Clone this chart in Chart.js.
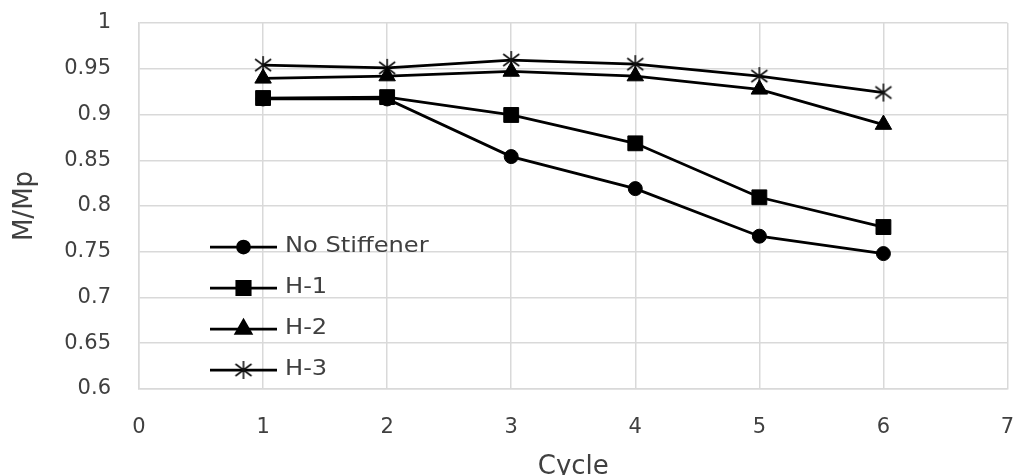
<!DOCTYPE html>
<html>
<head>
<meta charset="utf-8">
<script src="https://cdn.jsdelivr.net/npm/chart.js@4.4.0/dist/chart.umd.min.js"></script>
<style>
html,body{margin:0;padding:0;background:#fff;}
#wrap{width:1019px;height:475px;}
</style>
</head>
<body>
<div id="wrap"><canvas id="c" width="1019" height="475"></canvas></div>
<script>
const cycles = [1, 2, 3, 4, 5, 6];
const seriesNames = ['No Stiffener', 'H-1', 'H-2', 'H-3'];
const noStiffener = [0.917, 0.917, 0.854, 0.819, 0.767, 0.748];
const h1 = [0.918, 0.919, 0.8995, 0.8685, 0.8095, 0.777];
const h2 = [0.9395, 0.942, 0.947, 0.942, 0.9275, 0.889];
const h3 = [0.954, 0.951, 0.9595, 0.955, 0.942, 0.924];
const yTickValues = [0.6, 0.65, 0.7, 0.75, 0.8, 0.85, 0.9, 0.95, 1];

const FONT = 'DejaVu Sans';
const TEXT = '#404040';
const GRID = '#d9d9d9';

// asterisk marker (vertical line + X)
function makeAsterisk() {
  const cv = document.createElement('canvas');
  cv.width = 20; cv.height = 20;
  const g = cv.getContext('2d');
  g.strokeStyle = '#111';
  g.lineWidth = 1.6;
  g.beginPath();
  g.moveTo(10, 1); g.lineTo(10, 19);
  g.moveTo(2, 4); g.lineTo(18, 16);
  g.moveTo(2, 16); g.lineTo(18, 4);
  g.stroke();
  return cv;
}
const asterisk = makeAsterisk();

const styles = [
  {pointStyle: 'circle', radius: 7},
  {pointStyle: 'rect', radius: 10.5},
  {pointStyle: 'triangle', radius: 9.5},
  {pointStyle: asterisk, radius: 10}
];

const allValues = [noStiffener, h1, h2, h3];
const datasets = allValues.map((vals, i) => ({
  label: seriesNames[i],
  data: cycles.map((c, j) => ({x: c, y: vals[j]})),
  borderColor: '#000',
  backgroundColor: '#000',
  borderWidth: 2.75,
  pointStyle: styles[i].pointStyle,
  pointRadius: styles[i].radius,
  pointHoverRadius: styles[i].radius,
  pointBorderWidth: 1,
  pointBorderColor: '#000',
  pointBackgroundColor: '#000',
  tension: 0,
  fill: false
}));

const legendPlugin = {
  id: 'customLegend',
  afterDraw(chart) {
    const ctx = chart.ctx;
    const ca = chart.chartArea;
    const x0 = ca.left + 71, x1 = ca.left + 138, xm = (x0 + x1) / 2;
    const tx = ca.left + 146;
    const y0 = ca.top + 224, dy = 41;
    ctx.save();
    seriesNames.forEach((name, i) => {
      const y = y0 + i * dy;
      ctx.strokeStyle = '#000';
      ctx.lineWidth = 2.75;
      ctx.beginPath(); ctx.moveTo(x0, y); ctx.lineTo(x1, y); ctx.stroke();
      ctx.fillStyle = '#000';
      Chart.helpers.drawPoint(ctx, {
        pointStyle: styles[i].pointStyle,
        radius: styles[i].pointStyle === 'circle' ? 6 : styles[i].radius * 0.9,
        rotation: 0,
        borderWidth: 1
      }, xm, y);
      ctx.save();
      ctx.fillStyle = TEXT;
      ctx.font = '21px "' + FONT + '"';
      ctx.textAlign = 'left';
      ctx.textBaseline = 'middle';
      ctx.translate(tx, y);
      ctx.scale(1.15, 1);
      ctx.fillText(name, 0, 0);
      ctx.restore();
    });
    ctx.restore();
  }
};

new Chart(document.getElementById('c'), {
  type: 'line',
  data: {datasets},
  plugins: [legendPlugin],
  options: {
    responsive: false,
    animation: false,
    devicePixelRatio: 1,
    layout: {padding: {top: 23, right: 9, left: 0, bottom: 0}},
    plugins: {legend: {display: false}, tooltip: {enabled: false}},
    scales: {
      x: {
        type: 'linear',
        min: 0, max: 7,
        afterFit(s) { s.height = 86; s.paddingLeft = 0; s.paddingRight = 0; },
        ticks: {stepSize: 1, padding: 26, color: TEXT, font: {family: FONT, size: 21}},
        grid: {color: GRID, lineWidth: 1.5, drawTicks: false},
        border: {color: GRID, width: 1.5},
        title: {display: true, text: 'Cycle', color: TEXT, font: {family: FONT, size: 26, lineHeight: 1}, padding: {top: 0, bottom: -5}}
      },
      y: {
        min: 0.6, max: 1,
        afterFit(s) { s.width = 139; s.paddingTop = 0; s.paddingBottom = 0; },
        afterBuildTicks(s) { s.ticks = yTickValues.map(v => ({value: v})); },
        ticks: {padding: 28, color: TEXT, font: {family: FONT, size: 21},
          callback: v => String(Number(v.toFixed(2)))},
        grid: {color: GRID, lineWidth: 1.5, drawTicks: false},
        border: {color: GRID, width: 1.5},
        title: {display: true, text: 'M/Mp', color: TEXT, font: {family: FONT, size: 26, lineHeight: 1.2}, padding: {top: 10, bottom: 0}}
      }
    }
  }
});
</script>
</body>
</html>
